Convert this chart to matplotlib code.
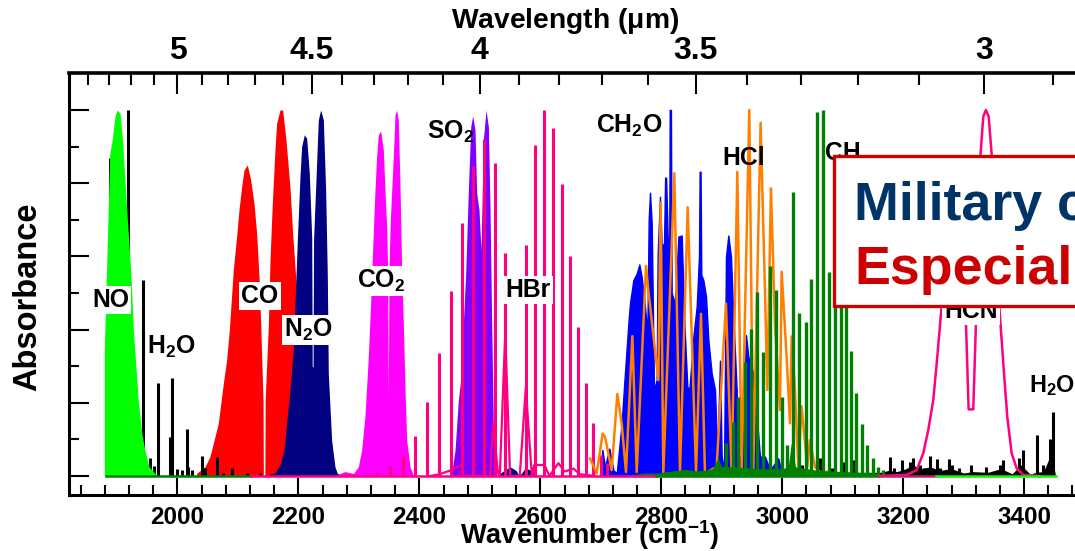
import matplotlib
matplotlib.use("Agg")
import matplotlib.pyplot as plt
from matplotlib.patches import Rectangle
from matplotlib.ticker import FixedLocator, NullFormatter, FixedFormatter

# ---------- data (wavenumber cm-1, absorbance) ----------
no_x = [1879,1883,1886,1888,1892,1897,1900.5,1905,1909,1914,1919,1922.6,1927,1935,1941,1946,1953,1965]
no_y = [.344,.581,.76,.88,.918,.986,1.0,.991,.918,.781,.654,.563,.399,.208,.117,.071,.025,.003]

co_x = [2031.7,2045.5,2053.7,2062,2067.5,2075.8,2081.3,2085.7,2092.3,2097.8,2101.7,2106.1,2110,2115.5,2121,2126.5,2130.9,2134.8,2138.1,2141.5,2142,2144.5,2145,2150.2,2153,2156.8,2161.2,2164,2169.5,2173.9,2179.4,2186,2190.4,2195.4,2201.5,2208,2216.3,2224.6]
co_y = [.007,.025,.053,.107,.144,.253,.317,.399,.563,.654,.727,.79,.836,.85,.809,.745,.663,.545,.39,.203,0,0,.208,.408,.59,.745,.891,.964,1,1,.918,.79,.663,.545,.399,.235,.053,.007]

n2o_x = [2150.2,2161.2,2169.5,2176.1,2180.5,2186,2191.5,2194.3,2198.2,2202.6,2205.3,2209.7,2213.6,2218,2222,2222.8,2224.2,2225,2229,2232.9,2236.7,2241.2,2245,2247.8,2249.4,2254.9,2260.4,2264.3,2274.2]
n2o_y = [.003,.009,.03,.071,.144,.235,.344,.472,.645,.818,.9,.932,.923,.827,.65,.299,.299,.645,.809,.973,1.0,.973,.781,.545,.28,.098,.025,.007,0]
n2o_hot_x = [2528,2540,2550,2560,2565,2570,2575,2585,2595]
n2o_hot_y = [0,.015,.025,.015,0,.01,.022,.015,0]

co2_x = [2263,2277,2291,2299,2304.5,2310,2315.6,2319.4,2322.7,2326.6,2329.3,2332.1,2336,2340.4,2343.1,2345.9,2347.5,2348.6,2349.8,2352,2356.9,2359.7,2362.4,2365.2,2368,2370.8,2373.5,2376.3,2379,2384.5,2390]
co2_y = [.003,.012,.007,.025,.071,.162,.326,.472,.617,.781,.872,.932,.943,.891,.781,.68,.57,.208,.57,.70,.872,.986,1,.973,.79,.554,.417,.235,.098,.025,.003]

so2_x = [2453.4,2459,2464.5,2468.3,2472.7,2476.6,2481,2484.9,2488.2,2492,2494.8,2498.6,2501.9,2505.8,2510.2,2514.1,2516.8,2519.6,2522.3,2527.8]
so2_y = [.007,.071,.208,.262,.417,.554,.781,.954,.984,.945,.772,.727,.617,.918,1,.954,.736,.417,.144,.007]

ch2o_x = [2698.7,2702.6,2707,2714.2,2720.8,2726.3,2734.5,2738.4,2745.6,2748.3,2753.8,2759.4,2763.8,2767.6,2773.1,2777,2779.2,2781.4,2784.2,2788,2792.4,2794.1,2797.9,2800.7,2804.6,2806.4,2808,2810.6,2813.2,2814,2816,2817.2,2822.7,2828.3,2833.8,2838.2,2843.1,2846.4,2853.1,2858.6,2862.4,2863.5,2865,2866.2,2869.6,2874,2877.9,2883.4,2888.9,2892.7,2897.1,2899.9,2903.8,2907,2910.9,2915.3,2919.2,2924.7,2927.4,2932.9,2940.1,2944,2952.2,2956.6,2963.2,2971.5,2979.8,2993.6,2999.1]
ch2o_y = [.007,.071,.025,.075,.016,.007,.144,.244,.417,.472,.535,.553,.578,.544,.462,.39,.699,.774,.69,.235,.262,.608,.763,.627,.636,.815,.815,.654,.6,1.0,1.0,.5,.472,.654,.657,.417,.244,.235,.381,.463,.6,.831,.831,.55,.535,.49,.371,.28,.235,.053,.315,.053,.016,.599,.657,.599,.435,.235,.053,.053,.385,.326,.28,.19,.053,.053,.016,.048,.007]

hcl_x = [2682.2,2693.2,2703.1,2707,2718,2727.4,2734.5,2741.7,2752.2,2759.4,2774.8,2778.6,2795.2,2799,2803.4,2821.6,2831,2843.7,2857.5,2865.7,2872.3,2891.6,2907,2916.4,2925.8,2932.9,2945.6,2952.2,2964.3,2971.5,2975.4,2981.4,2988,2996.3,2999.1,3007.3,3012.9,3015.6,3021.1,3026.6,3032.1,3041.5,3045.9,3054.2,3062.5,3073.5]
hcl_y = [.048,.007,.116,.107,.016,.224,.144,.011,.382,.011,.574,.508,.262,.747,.007,.827,.011,.734,.011,.443,.007,.025,.471,.007,.831,.011,1.0,.016,.965,.508,.235,.786,.417,.18,.558,.326,.144,.381,.235,.025,.19,.025,.098,.025,.011,.011]

hcn_x = [3157.8,3205.8,3222.3,3233.3,3241.6,3249.9,3256.5,3263.6,3271.9,3282.9,3294,3303.9,3308.3,3316,3320.4,3328.1,3332.5,3336.9,3341.4,3346.3,3352.9,3359,3365.6,3372.2,3379.4,3387.7,3398.7,3423.5]
hcn_y = [0,.003,.016,.062,.126,.208,.326,.463,.645,.754,.69,.417,.182,.182,.417,.881,.982,1.0,.982,.881,.645,.463,.308,.162,.062,.021,.003,0]

hbr_nu = [2329.3,2351.4,2372.4,2392.8,2413.2,2433,2452.3,2471.1,2489.3,2507.5,2525.1,2542.2,2575.8,2591.8,2606.7,2621.6,2635.3,2649.7,2662.9,2675,2687.7,2700.4,2709.7]
hbr_a = [.012,.027,.057,.11,.201,.335,.506,.692,.847,.92,.854,.61,.63,.904,1.0,.95,.797,.6,.408,.253,.144,.057,.035]
hbr_wing_x = [2418,2434,2451,2470,2473,2517,2522,2530,2533,2542,2550,2566,2576,2586,2590,2607,2615,2630,2640,2655,2665,2690]
hbr_wing_y = [0,.005,.015,.03,0,0,.14,.008,0,.39,0,0,.24,0,.03,.03,0,.035,.012,.02,.005,0]

h2o_nu = [1888.4,1918.7,1942.4,1967.2,1991.5,2016.3,2041.1,2064.8,1954.5,1961.7,1987.6,1998.6,2008,2018,2023.4,2090.7,2075.8,2114.4,2136.4,2045.5,
          3032.1,3062.5,3081.8,3101,3117.6,3178.2,3185.4,3198.6,3211.3,3215.7,3227.8,3234.4,3244.9,3255.4,3260.9,3275.2,3280.2,3291.8,3311.6,3336.9,3360.1,3365.6,3392.1,3397.6,3420.7,3431.8,3442.8,3447.2]
h2o_a = [.868,1.0,.536,.253,.267,.127,.055,.053,.048,.027,.107,.02,.016,.025,.016,.023,.007,.007,.009,.021,
         .03,.048,.021,.039,.044,.053,.021,.044,.039,.05,.03,.021,.055,.045,.021,.045,.03,.021,.03,.025,.03,.044,.048,.071,.112,.03,.1,.176]
h2o_floor_x = [3040,3100,3165,3175,3190,3205,3215,3230,3245,3260,3280,3300,3315,3340,3362,3380,3395,3410,3420,3432,3442,3447,3452]
h2o_floor_y = [.005,.01,.01,.015,.012,.02,.03,.02,.025,.015,.02,.008,.012,.01,.02,.006,.03,.005,.01,.012,.05,.05,0]

ch4_nu = [2907,2918,2927.4,2938.4,2948.4,2958.8,2968.8,2979.8,2989.2,2999.6,3007.3,3017.3,3028.3,3038.8,3048.1,3058,3068,3077.3,3087.3,3096.6,3105.5,3114.3,3122.5,3132.5,3140.7,3149.6,3157.8,3166.6]
ch4_a = [.089,.148,.217,.312,.401,.504,.34,.574,.508,.217,.084,.777,.446,.42,.537,.995,1.0,.558,.472,.52,.472,.342,.228,.141,.084,.048,.025,.016]
ch4_floor_x = [2748,2770,2793,2820,2840,2858,2875,2885,2894,2900,2920,2960,3000,3010,3015,3022,3060,3100,3150,3170]
ch4_floor_y = [.003,.008,.008,.014,.018,.014,.016,.02,.05,.025,.025,.02,.02,.025,.09,.025,.015,.012,.008,.003]

top_major = [5, 4.5, 4, 3.5, 3]
top_major_labels = ["5", "4.5", "4", "3.5", "3"]
top_minor = [5.4,5.3,5.2,5.1,4.9,4.8,4.7,4.6,4.4,4.3,4.2,4.1,3.9,3.8,3.7,3.6,3.4,3.3,3.2,3.1,2.9]
bottom_major = [2000,2200,2400,2600,2800,3000,3200,3400]
bottom_minor = [1840,1880,1920,1960,2040,2080,2120,2160,2240,2280,2320,2360,2440,2480,2520,2560,2640,2680,2720,2760,2840,2880,2920,2960,3040,3080,3120,3160,3240,3280,3320,3360,3440,3480]
y_major = [0,.2,.4,.6,.8,1.0]
y_minor = [.1,.3,.5,.7,.9]

# ---------- style ----------
plt.rcParams['font.family'] = ['Liberation Sans', 'DejaVu Sans']
plt.rcParams['font.weight'] = 'bold'
plt.rcParams['mathtext.fontset'] = 'custom'
plt.rcParams['mathtext.bf'] = 'Liberation Sans:bold'
plt.rcParams['mathtext.rm'] = 'Liberation Sans:bold'
plt.rcParams['mathtext.default'] = 'rm'

W, H = 1075, 551
fig = plt.figure(figsize=(W/100, H/100), dpi=100)
ax = fig.add_axes([69/W, 1-495/H, 1-69/W, (495-73)/H])
ax.set_xlim(1820.6, 3484.2)
ax.set_ylim(-0.052, 1.101)

NO_C, RED, NAVY, MAG, PUR, BLUE, ORG, PINK, GRN = '#00ff00', '#ff0000', '#000080', '#ff00ff', '#8000ff', '#0000ff', '#ff8000', '#ff0080', '#008000'

ax.fill_between(co_x, co_y, color=RED, lw=0, zorder=2)
ax.vlines(h2o_nu, 0, h2o_a, color='black', lw=2.2, zorder=3)
ax.fill_between(h2o_floor_x, h2o_floor_y, color='black', lw=0, zorder=3)
ax.fill_between(no_x, no_y, color=NO_C, lw=0, zorder=4)
ax.fill_between(n2o_x, n2o_y, color=NAVY, lw=0, zorder=4)
ax.fill_between(n2o_hot_x, n2o_hot_y, color=NAVY, lw=0, zorder=4)
ax.fill_between(co2_x, co2_y, color=MAG, lw=0, zorder=4)
ax.fill_between(so2_x, so2_y, color=PUR, lw=0, zorder=4)
ax.fill_between(ch2o_x, ch2o_y, color=BLUE, lw=1, zorder=5)
ax.vlines(hbr_nu, 0, hbr_a, color=PINK, lw=2.2, zorder=6)
ax.plot(hbr_wing_x, hbr_wing_y, color=PINK, lw=1.6, zorder=6)
ax.plot(hcl_x, hcl_y, color=ORG, lw=1.8, zorder=7)
ax.fill_between(ch4_floor_x, ch4_floor_y, color=GRN, lw=0, zorder=8)
ax.vlines(ch4_nu, 0, ch4_a, color=GRN, lw=2.4, zorder=8)
ax.plot(hcn_x, hcn_y, color=PINK, lw=1.8, zorder=9)

# baseline strips
ax.plot([1881, 2122], [0, 0], color=GRN, lw=1.8, zorder=10)
ax.plot([2122, 2792], [0, 0], color=PINK, lw=1.8, zorder=10)
ax.plot([2792, 3159], [0, 0], color=GRN, lw=1.8, zorder=10)
ax.plot([3159, 3255], [0, 0], color='#c0206a', lw=1.8, zorder=10)
ax.plot([3255, 3424], [0, 0], color=NO_C, lw=1.8, zorder=10)
ax.plot([3424, 3452], [0, 0], color=NO_C, lw=1.8, zorder=10)

# axes furniture
for s, lw in (('left', 2.2), ('bottom', 2.2), ('top', 2.6)):
    ax.spines[s].set_linewidth(lw)
ax.spines['right'].set_visible(False)
ax.spines['top'].set_visible(False)
ax.xaxis.set_major_locator(FixedLocator(bottom_major))
ax.xaxis.set_minor_locator(FixedLocator(bottom_minor))
ax.yaxis.set_major_locator(FixedLocator(y_major))
ax.yaxis.set_minor_locator(FixedLocator(y_minor))
ax.yaxis.set_major_formatter(NullFormatter())
ax.tick_params(axis='x', which='major', direction='in', length=12, width=1.5, labelsize=17.5, pad=8)
ax.tick_params(axis='x', which='minor', direction='in', length=7.5, width=1.5)
ax.tick_params(axis='y', which='major', direction='in', length=14.5, width=1.5)
ax.tick_params(axis='y', which='minor', direction='in', length=7.2, width=1.5)

top = ax.secondary_xaxis('top', functions=(lambda v: 1e4/v, lambda w: 1e4/w))
top.spines['top'].set_linewidth(2.6)
top.xaxis.set_major_locator(FixedLocator(top_major))
top.xaxis.set_major_formatter(FixedFormatter(top_major_labels))
top.xaxis.set_minor_locator(FixedLocator(top_minor))
top.xaxis.set_minor_formatter(NullFormatter())
top.tick_params(axis='x', which='major', direction='in', length=15, width=1.5, labelsize=23, pad=5)
top.tick_params(axis='x', which='minor', direction='in', length=8.6, width=1.5)

def ft(px, py, s, **kw):
    return fig.text(px/W, 1-py/H, s, ha='center', va='center', weight='bold', **kw)

ft(565, 21, r'Wavelength ($\mathbf{\mu}$m)', fontsize=20.3)
ft(590, 535.5, r'Wavenumber (cm$^{-1}$)', fontsize=19.6)
ft(28, 297, 'Absorbance', fontsize=23.5, rotation=90)

wb = dict(facecolor='white', edgecolor='none', pad=1.5)
def lab(px, py, s, box=False, size=17.8):
    t = ft(px, py, s, fontsize=size, color='black', zorder=20)
    if box:
        t.set_bbox(wb)

lab(111, 300, 'NO', True)
lab(171, 347, r'H$_2$O')
lab(260, 296, 'CO', True)
lab(308, 330, r'N$_2$O', True)
lab(381, 281, r'CO$_2$', True)
lab(450, 132, r'SO$_2$')
lab(528, 290, 'HBr', True)
lab(629, 126, r'CH$_2$O')
lab(744, 158, 'HCl')
lab(843, 153, 'CH')
lab(971, 311, 'HCN', True)
lab(1052, 386, r'H$_2$O', size=16.8)

# overlay box, running off the right edge of the figure
fig.add_artist(Rectangle((834/W, 1-306/H), 300/W, 150/H, transform=fig.transFigure,
                         facecolor='white', edgecolor='#cc0000', lw=2.4, zorder=30))
fig.text(854/W, 1-220/H, 'Military c', color='#003366', fontsize=38.7, weight='bold', ha='left', va='baseline', zorder=31)
fig.text(854/W, 1-284/H, 'Especial', color='#cc0000', fontsize=38.7, weight='bold', ha='left', va='baseline', zorder=31)

fig.savefig('out.png', dpi=100)
